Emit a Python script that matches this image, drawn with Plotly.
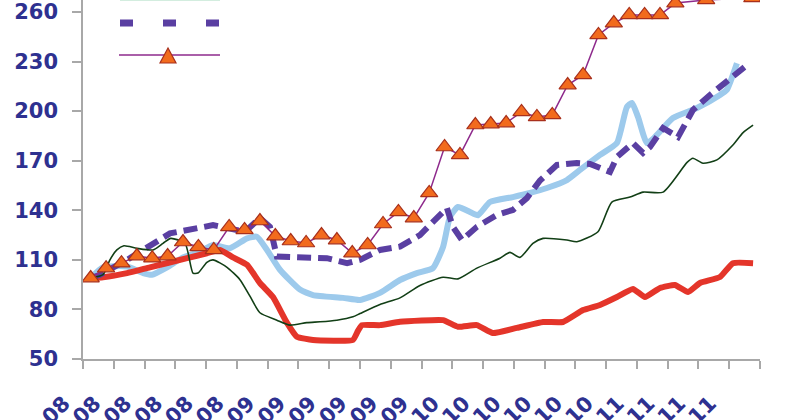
import plotly.graph_objects as go

# ---- data (x = months since Jan 2008, month centre = integer) ----
GREEN_M = [0, 0.8, 1.25, 1.7, 2.16, 3.0, 4.05, 4.7, 5.2, 6.13, 6.65, 6.97, 7.55, 7.95, 8.86, 9.7, 10.35, 11.0, 12.1, 12.95,
           14.05, 14.9, 16.0, 17.04, 17.5, 18.8, 20.1, 21.4, 22.9, 23.87, 25.1, 26.6, 27.25, 27.9, 28.74, 29.4, 30.95, 31.6,
           32.97, 33.87, 35.05, 35.9, 37.2, 38.76, 39.14, 39.79, 40.7, 41.74, 42.4, 43.05]
GREEN_V = [99, 101, 110, 116, 118.5, 117, 116, 120, 123, 120, 102, 102, 108.5, 110, 105.5, 98, 88, 78, 73.5, 70.5,
           72, 72.5, 73.5, 75.5, 77.5, 83, 87, 94.5, 99.5, 98.5, 105, 111, 114.5, 111.5, 120, 123, 122, 121,
           127, 145, 148, 151, 151, 169, 171.5, 168.5, 170.5, 179.5, 187, 191.5]

RED_M = [0, 0.8, 2.36, 3.85, 6.26, 7.55, 8.4, 9.25, 10.16, 11.0, 11.85, 12.75, 13.4, 14.45, 17.04, 17.37, 17.63, 18.8,
         20.1, 22.9, 23.87, 25.1, 26.14, 27.7, 29.4, 30.7, 32.0, 33.1, 34.2, 35.24, 36.02, 37.0, 37.97, 38.82, 39.6,
         40.9, 41.74, 43.05]
RED_V = [99, 99.5, 102, 105.5, 111, 114, 116, 111.5, 107, 96, 87.5, 72, 63.5, 61.5, 61.5, 67, 70.5, 70.5,
         72.5, 73.5, 69.5, 70.5, 65.7, 68.8, 72.4, 72.4, 79.6, 82.7, 87.5, 92.4, 87.5, 93, 94.8, 90.5, 96,
         99.6, 108, 108]

LBLUE_M = [0, 0.8, 2.36, 3.4, 3.98, 4.96, 6.0, 7.1, 7.95, 9.05, 10.16, 10.8, 11.46, 12.3, 13.6, 14.45, 16.4, 17.5,
           18.8, 20.1, 21.2, 22.24, 22.9, 23.35, 23.87, 24.65, 25.17, 25.95, 27.44, 28.55, 29.65, 30.95, 31.8, 33.1,
           34.2, 34.85, 35.18, 35.57, 36.15, 36.67, 37.84, 39.4, 40.9, 41.35, 42.0]
LBLUE_V = [99, 105.5, 106, 102, 101, 105.5, 111.5, 115, 119, 117, 123, 124, 116, 104, 92, 88.7, 87, 85.7,
           90, 97.8, 102, 105, 117.8, 136, 142, 139, 137, 145, 148, 150.5, 153.5, 158.3, 164.4, 173.5,
           180.7, 202.5, 205, 196.5, 180.7, 184.3, 195.8, 201.9, 209.8, 213, 229]

PURPLE_M = [0, 0.6, 2.36, 4.5, 5.15, 7.95, 9.05, 10.03, 11.0, 11.65, 12.1, 13.15, 15.35, 16.66, 17.5, 18.8, 20.1,
            21.4, 22.24, 22.57, 23.15, 23.54, 24.13, 25.1, 26.4, 27.44, 28.35, 29.2, 30.3, 31.6, 32.45, 33.75,
            34.2, 35.24, 35.9, 36.35, 37.2, 38.17, 39.14, 40.25, 41.35, 42.66]
PURPLE_V = [99, 101, 110, 122, 126, 131, 129.3, 127, 135.3, 130, 112, 111.7, 111, 108, 110, 116, 118,
            125, 132.3, 136, 141.4, 130, 122, 130, 137.2, 140.2, 147.4, 158, 167.4, 168.6, 168, 163.2,
            172.2, 180.7, 174.7, 178.3, 189.8, 184.3, 200.7, 209.8, 217.6, 227.9]

TRI_M = list(range(0, 39)) + [40, 43]
TRI_V = [99, 105, 108, 112.3, 111, 112.3, 120.8, 117.8, 116, 129.9, 128.1, 133.5, 124.4, 121.4, 120.2, 125, 122,
         114.1, 119, 131.7, 139, 135.3, 150.5, 178.3, 173.5, 191.6, 192.2, 192.8, 199.5, 196.5, 197.7, 215.8,
         221.9, 246.1, 253.3, 258.2, 258.2, 258.2, 265.4, 267.3, 268.5]

TICK_LABELS = ([f"{m}.08" for m in ["01", "03", "05", "07", "09", "11"]] +
               [f"{m}.09" for m in ["01", "03", "05", "07", "09", "11"]] +
               [f"{m}.10" for m in ["01", "03", "05", "07", "09", "11"]] +
               [f"{m}.11" for m in ["01", "03", "05", "07"]])
Y_TICKS = [50, 80, 110, 140, 170, 200, 230, 260]

# ---- layout constants ----
W, H = 800, 420
ML, MR, MT, MB = 83, 40, 0, 61
PW, PH = W - ML - MR, H - MT - MB
TXT = "#2e3190"
AXC = "#a8a8a8"
FONT = dict(family="DejaVu Sans, Liberation Sans, sans-serif", size=21, color=TXT, weight="bold")

fig = go.Figure()
fig.add_trace(go.Scatter(x=LBLUE_M, y=LBLUE_V, mode="lines", line=dict(color="#9dcaec", width=6, shape="spline", smoothing=0.5)))
fig.add_trace(go.Scatter(x=RED_M, y=RED_V, mode="lines", line=dict(color="#e4352a", width=6, shape="spline", smoothing=0.4)))
fig.add_trace(go.Scatter(x=PURPLE_M, y=PURPLE_V, mode="lines", line=dict(color="#5a3fa2", width=6, dash="14px,7px")))
fig.add_trace(go.Scatter(x=GREEN_M, y=GREEN_V, mode="lines", line=dict(color="#123f16", width=1.6, shape="spline", smoothing=0.6)))
fig.add_trace(go.Scatter(x=TRI_M, y=TRI_V, mode="lines+markers", line=dict(color="#8e2a8c", width=1.5),
                         marker=dict(symbol="triangle-up", size=15, color="#f26b1d",
                                     line=dict(color="#a8301c", width=1.2))))

tickvals = [-0.5 + 2 * k for k in range(23)]
fig.update_xaxes(range=[-0.5, 43.5], tickmode="array", tickvals=tickvals, ticktext=TICK_LABELS + [""],
                 tickangle=-45, ticklabelshift=-19, ticklabelstandoff=14, tickfont=FONT,
                 showline=True, linecolor=AXC, linewidth=1.5, ticks="outside", ticklen=8,
                 tickcolor=AXC, tickwidth=1.5, showgrid=False, zeroline=False)
fig.update_yaxes(range=[50, 50 + PH / 1.6524], tickmode="array", tickvals=Y_TICKS, tickfont=FONT,
                 showline=True, linecolor=AXC, linewidth=1.5, ticks="outside", ticklen=9,
                 tickcolor=AXC, tickwidth=1.5, ticklabelstandoff=10, showgrid=False, zeroline=False)


def px_x(p):
    return (p - ML) / PW


def px_y(p):
    return 1 - (p - MT) / PH


# legend keys (labels are outside the visible crop)
fig.add_shape(type="line", xref="paper", yref="paper", x0=px_x(120), x1=px_x(220), y0=px_y(-1), y1=px_y(-1),
              line=dict(color="#a8dcc0", width=3))
fig.add_shape(type="line", xref="paper", yref="paper", x0=px_x(120), x1=px_x(220), y0=px_y(23), y1=px_y(23),
              line=dict(color="#5a3fa2", width=7, dash="13px,30px"))
fig.add_shape(type="line", xref="paper", yref="paper", x0=px_x(119), x1=px_x(220), y0=px_y(55), y1=px_y(55),
              line=dict(color="#8e2a8c", width=1.5))
fig.add_shape(type="path", xref="paper", yref="paper",
              path=f"M{px_x(168)},{px_y(48)} L{px_x(160)},{px_y(63)} L{px_x(176)},{px_y(63)} Z",
              fillcolor="#f26b1d", line=dict(color="#a8301c", width=1.2))

fig.update_layout(width=W, height=H, margin=dict(l=ML, r=MR, t=MT, b=MB, autoexpand=False),
                  showlegend=False, plot_bgcolor="white", paper_bgcolor="white")

fig.write_html("out.html")
